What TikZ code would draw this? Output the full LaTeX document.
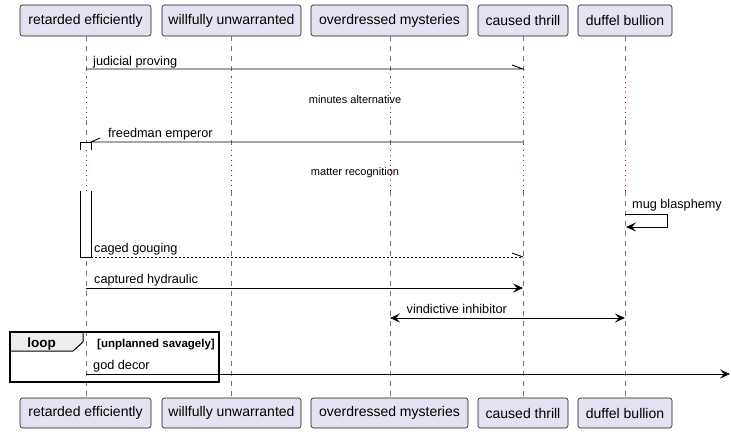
\documentclass[tikz,border=0pt]{standalone}
\usepackage{fontspec}
\setmainfont{Liberation Sans}
\usetikzlibrary{arrows.meta}
\definecolor{partfill}{HTML}{E2E2F0}
\definecolor{partline}{HTML}{181818}
\definecolor{delaycol}{HTML}{A80036}
\definecolor{tabfill}{HTML}{EEEEEE}
\tikzset{
  part/.style={draw=partline, fill=partfill, rounded corners=2.5pt, line width=0.6pt,
    minimum height=31pt, inner sep=0pt, font=\fontsize{14}{16}\selectfont},
  life/.style={draw=partline!60, dash pattern=on 5pt off 5pt, line width=0.7pt},
  delayline/.style={draw=delaycol, dash pattern=on 1pt off 4pt, line width=0.8pt},
  msg/.style={draw=black, line width=0.9pt},
  fullhead/.style={-{Stealth[length=10pt,width=9pt,inset=4pt]}},
  msgtxt/.style={anchor=base west, inner sep=0pt, font=\fontsize{12.7}{15}\selectfont},
  delaytxt/.style={anchor=base, inner sep=0pt, font=\fontsize{11}{13}\selectfont},
}
\begin{document}
\begin{tikzpicture}[x=1pt,y=-1pt]
\useasboundingbox (0,0) rectangle (731,434);
% participants top
\node[part, minimum width=131pt] (p1) at (85.5,20.5) {retarded efficiently};
\node[part, minimum width=139pt] (p2) at (231.5,20.5) {willfully unwarranted};
\node[part, minimum width=157pt] (p3) at (389.5,20.5) {overdressed mysteries};
\node[part, minimum width=90pt] (p4) at (523,20.5) {caused thrill};
\node[part, minimum width=94pt] (p5) at (625,20.5) {duffel bullion};
% participants bottom
\node[part, minimum width=131pt, minimum height=30pt] (q1) at (85.5,413) {retarded efficiently};
\node[part, minimum width=139pt, minimum height=30pt] (q2) at (231.5,413) {willfully unwarranted};
\node[part, minimum width=157pt, minimum height=30pt] (q3) at (389.5,413) {overdressed mysteries};
\node[part, minimum width=90pt, minimum height=30pt] (q4) at (523,413) {caused thrill};
\node[part, minimum width=94pt, minimum height=30pt] (q5) at (625,413) {duffel bullion};
% lifelines
\foreach \i/\x in {1/86,2/231,3/390,4/523,5/625}{
  \coordinate (a\i) at (\x,77);
  \coordinate (b\i) at (\x,120);
  \coordinate (c\i) at (\x,150);
  \coordinate (d\i) at (\x,191);
  \draw[life] (p\i.south -| a\i) -- (a\i);
  \draw[delayline] (a\i) -- (b\i);
  \draw[life] (b\i) -- (c\i);
  \draw[delayline] (c\i) -- (d\i);
  \draw[life] (d\i) -- (q\i.north -| d\i);
}
% activation box
\fill[white] (80,142) rectangle (91,150);
\draw[line width=0.9pt] (80,150) -- (80,142) -- (91,142) -- (91,150);
\fill[white] (80,191) rectangle (91,257);
\draw[line width=0.9pt] (80,191) -- (80,257) -- (91,257) -- (91,191);
% message 1
\coordinate (m1s) at (86,69);
\coordinate (m1e) at (523,69);
\draw[msg] (m1s) -- (m1e) -- ++(-11,-4);
\node[msgtxt] (t1) at (93,65) {judicial proving};
% delay 1
\node[delaytxt] (dl1) at (355,103) {minutes alternative};
% message 2
\coordinate (m2s) at (523,142);
\coordinate (m2e) at (91,142);
\draw[msg] (m2s) -- (m2e) -- ++(9,-4);
\node[msgtxt] (t2) at (108,137.5) {freedman emperor};
% delay 2
\node[delaytxt] (dl2) at (355,175.5) {matter recognition};
% self message
\coordinate (s1) at (625,214);
\coordinate (s2) at (667,214);
\coordinate (s3) at (667,227);
\coordinate (s4) at (626,227);
\draw[msg, fullhead] (s1) -- (s2) -- (s3) -- (s4);
\node[msgtxt] (t3) at (632,208) {mug blasphemy};
% caged gouging (return)
\coordinate (m4s) at (91,257);
\coordinate (m4e) at (523,257);
\draw[msg, dash pattern=on 2pt off 2pt] (m4s) -- (m4e);
\draw[msg] (m4e) -- ++(-11,-4);
\node[msgtxt] (t4) at (94,252.5) {caged gouging};
% captured hydraulic
\coordinate (m5s) at (86,288);
\coordinate (m5e) at (523,288);
\draw[msg, fullhead] (m5s) -- (m5e);
\node[msgtxt] (t5) at (94,283) {captured hydraulic};
% vindictive inhibitor
\coordinate (m6s) at (390,318);
\coordinate (m6e) at (625,318);
\draw[msg, {Stealth[length=10pt,width=9pt,inset=4pt]}-{Stealth[length=10pt,width=9pt,inset=4pt]}] (m6s) -- (m6e);
\node[msgtxt] (t6) at (406.5,313) {vindictive inhibitor};
% loop frame
\draw[fill=tabfill, line width=1pt] (10,332) -- (83,332) -- (83,342) -- (73,351) -- (10,351) -- cycle;
\draw[line width=1.5pt] (10,332) rectangle (219,382);
\node[anchor=base, inner sep=0pt, font=\fontsize{13.5}{15}\selectfont\bfseries] (lp) at (41.5,347) {loop};
\node[anchor=base west, inner sep=0pt, font=\fontsize{11.5}{13}\selectfont\bfseries] (lc) at (97,347) {[unplanned savagely]};
% god decor
\coordinate (m7s) at (86,374);
\coordinate (m7e) at (730,374);
\draw[msg, fullhead] (m7s) -- (m7e);
\node[msgtxt] (t7) at (93,369) {god decor};
\end{tikzpicture}
\end{document}
